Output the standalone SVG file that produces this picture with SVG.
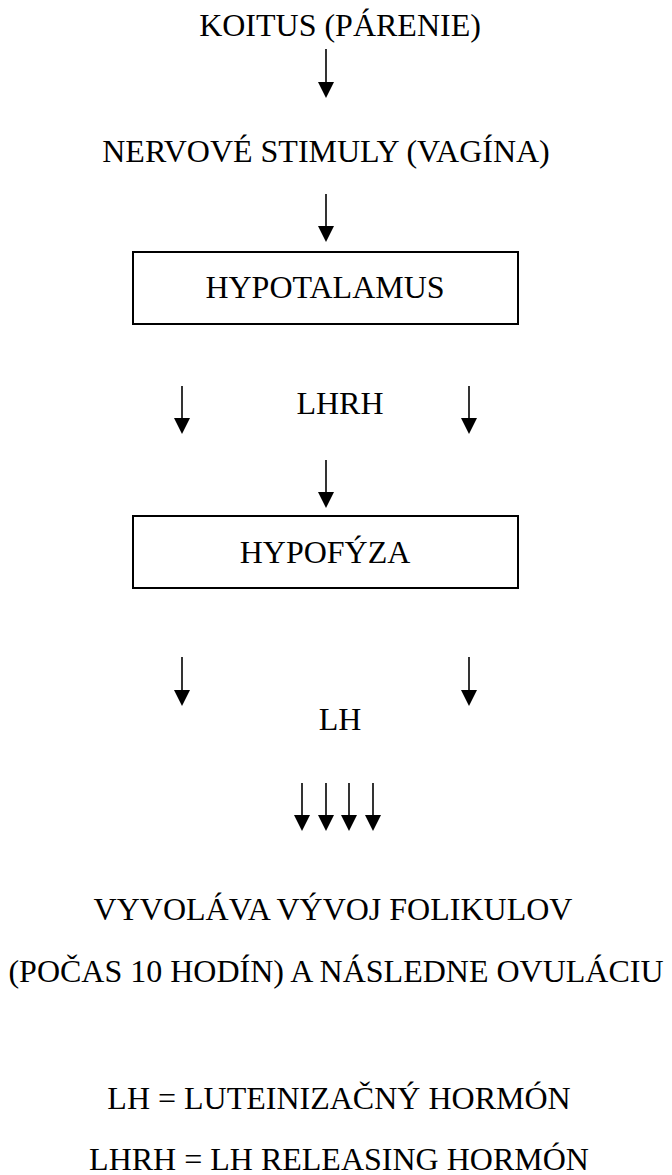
<svg xmlns="http://www.w3.org/2000/svg" width="672" height="1175" viewBox="0 0 672 1175">
<style>
text{font-family:"Liberation Serif","Times New Roman",serif;font-size:32px;fill:#000;text-anchor:middle}
.box{fill:none;stroke:#000;stroke-width:2}
.arr{stroke:#000;stroke-width:1.6;fill:none;marker-end:url(#ah)}
</style>
<defs>
<marker id="ah" markerUnits="userSpaceOnUse" markerWidth="16" markerHeight="16" refX="0" refY="8" orient="auto" viewBox="0 0 16 16">
<path d="M0,0 L16,8 L0,16 z" fill="#000"/>
</marker>
</defs>
<rect width="672" height="1175" fill="#fff"/>
<g id="connectors">
<line class="arr" x1="326" y1="49" x2="326" y2="82"/>
<line class="arr" x1="326" y1="194" x2="326" y2="226"/>
<line class="arr" x1="182" y1="386" x2="182" y2="418"/>
<line class="arr" x1="469" y1="386" x2="469" y2="418"/>
<line class="arr" x1="326" y1="460" x2="326" y2="492"/>
<line class="arr" x1="182" y1="657" x2="182" y2="690"/>
<line class="arr" x1="469" y1="657" x2="469" y2="690"/>
<line class="arr" x1="302" y1="783" x2="302" y2="815"/>
<line class="arr" x1="326" y1="783" x2="326" y2="815"/>
<line class="arr" x1="349" y1="783" x2="349" y2="815"/>
<line class="arr" x1="373" y1="783" x2="373" y2="815"/>
</g>
<g id="koitus"><text x="340" y="36">KOITUS (PÁRENIE)</text></g>
<g id="nervove"><text x="326" y="162">NERVOVÉ STIMULY (VAGÍNA)</text></g>
<g id="hypotalamus"><rect class="box" x="133" y="252" width="385" height="72"/><text x="325" y="298">HYPOTALAMUS</text></g>
<g id="lhrh"><text x="340" y="414">LHRH</text></g>
<g id="hypofyza"><rect class="box" x="133" y="516" width="385" height="72"/><text x="325" y="563">HYPOFÝZA</text></g>
<g id="lh"><text x="340" y="730">LH</text></g>
<g id="vyvolava"><text x="333" y="920">VYVOLÁVA VÝVOJ FOLIKULOV</text><text x="336" y="982">(POČAS 10 HODÍN) A NÁSLEDNE OVULÁCIU</text></g>
<g id="legend"><text x="339" y="1109">LH = LUTEINIZAČNÝ HORMÓN</text><text x="339" y="1170">LHRH = LH RELEASING HORMÓN</text></g>
</svg>
